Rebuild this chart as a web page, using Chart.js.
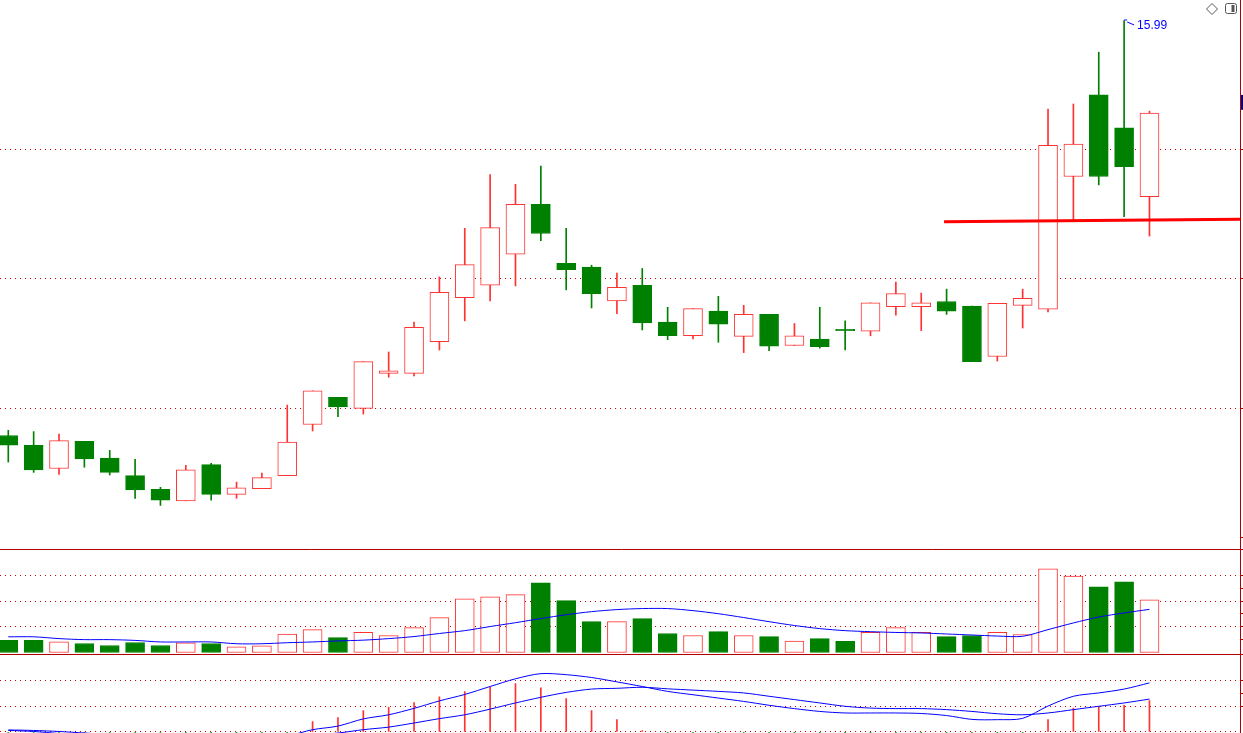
<!DOCTYPE html>
<html>
<head>
<meta charset="utf-8">
<script src="https://cdn.jsdelivr.net/npm/chart.js@4.4.1/dist/chart.umd.min.js"></script>
<style>
html, body { margin: 0; padding: 0; background: #fff; }
#wrap { position: relative; width: 1243px; height: 733px; overflow: hidden; }
</style>
</head>
<body>
<div id="wrap"><canvas id="kline" width="1243" height="733"></canvas></div>
<script>
// daily candles
const open  = [9.58, 9.43, 9.07, 9.49, 9.23, 8.96, 8.75, 8.57, 9.13, 8.67, 8.76, 8.96, 9.75, 10.17, 10.00, 10.54,
               10.54, 11.03, 11.71, 11.90, 12.38, 13.15, 12.24, 12.18, 11.66, 11.90, 11.33, 11.12, 11.50, 11.11, 11.45,
               10.97, 11.07, 11.22, 11.19, 11.57, 11.57, 11.65, 11.58, 10.80, 11.59, 11.53, 13.58, 14.84, 14.33, 13.27];
const close = [9.43, 9.05, 9.50, 9.22, 9.01, 8.74, 8.58, 9.05, 8.67, 8.77, 8.93, 9.48, 10.27, 10.02, 10.72, 10.58,
               11.25, 11.79, 12.22, 12.79, 13.15, 12.70, 12.14, 11.77, 11.87, 11.32, 11.12, 11.54, 11.30, 11.45, 10.96,
               11.12, 10.95, 11.20, 11.63, 11.77, 11.63, 11.50, 10.72, 11.62, 11.70, 14.06, 14.08, 13.58, 13.73, 14.56];
const high  = [9.66, 9.64, 9.60, 9.49, 9.35, 9.21, 8.78, 9.12, 9.15, 8.86, 9.00, 10.05, 10.27, 10.17, 10.72, 10.87,
               11.33, 12.03, 12.78, 13.61, 13.46, 13.74, 12.78, 12.21, 12.09, 12.16, 11.56, 11.54, 11.73, 11.59, 11.45,
               11.31, 11.56, 11.35, 11.63, 11.95, 11.78, 11.84, 11.58, 11.62, 11.84, 14.62, 14.70, 15.50, 15.99, 14.59];
const low   = [9.17, 9.01, 8.98, 9.09, 8.97, 8.61, 8.50, 8.57, 8.58, 8.61, 8.76, 8.96, 9.65, 9.87, 9.91, 10.48,
               10.50, 10.90, 11.35, 11.66, 11.89, 12.59, 11.83, 11.55, 11.46, 11.21, 11.06, 11.07, 11.02, 10.86, 10.89,
               10.97, 10.93, 10.90, 11.12, 11.44, 11.20, 11.45, 10.72, 10.73, 11.24, 11.49, 12.90, 13.45, 12.96, 12.66];

const volume = [0.47, 0.47, 0.41, 0.35, 0.27, 0.39, 0.27, 0.38, 0.35, 0.22, 0.26, 0.72, 0.89, 0.58, 0.78, 0.66,
                0.97, 1.36, 2.09, 2.17, 2.25, 2.71, 2.02, 1.20, 1.20, 1.32, 0.74, 0.66, 0.81, 0.66, 0.62,
                0.44, 0.54, 0.43, 0.78, 0.97, 0.78, 0.62, 0.66, 0.78, 0.70, 3.26, 2.98, 2.56, 2.75, 2.05];
const volMA  = [0.61, 0.61, 0.54, 0.50, 0.50, 0.47, 0.41, 0.41, 0.41, 0.34, 0.34, 0.38, 0.41, 0.45, 0.48, 0.54,
                0.62, 0.74, 0.85, 1.01, 1.16, 1.32, 1.47, 1.59, 1.67, 1.71, 1.71, 1.63, 1.51, 1.36, 1.20,
                1.05, 0.93, 0.85, 0.81, 0.78, 0.76, 0.72, 0.68, 0.64, 0.63, 0.89, 1.15, 1.38, 1.54, 1.68];

const dif  = [0.006, 0.002, -0.006, -0.014, -0.023, -0.031, -0.039, -0.043, -0.043, -0.039, -0.031, -0.016, 0.009, 0.023,
              0.051, 0.067, 0.092, 0.121, 0.146, 0.177, 0.207, 0.227, 0.223, 0.212, 0.195, 0.177, 0.158, 0.145, 0.132,
              0.119, 0.104, 0.091, 0.080, 0.074, 0.074, 0.074, 0.072, 0.064, 0.049, 0.048, 0.053, 0.101, 0.139, 0.152,
              0.167, 0.191];
const dea  = [0.008, 0.006, 0.002, -0.004, -0.010, -0.016, -0.021, -0.027, -0.031, -0.033, -0.031, -0.019, -0.012, -0.004,
              0.009, 0.019, 0.035, 0.052, 0.067, 0.089, 0.113, 0.135, 0.154, 0.167, 0.170, 0.174, 0.168, 0.163, 0.158,
              0.152, 0.139, 0.126, 0.113, 0.100, 0.093, 0.091, 0.091, 0.087, 0.080, 0.071, 0.067, 0.074, 0.087, 0.100,
              0.113, 0.128];
const macd = [-0.004, -0.008, -0.016, -0.020, -0.026, -0.030, -0.036, -0.032, -0.024, -0.012, -0.005, -0.004, 0.041, 0.056,
              0.083, 0.096, 0.114, 0.137, 0.157, 0.176, 0.188, 0.172, 0.130, 0.083, 0.048, 0.006, -0.020, -0.036, -0.052,
              -0.066, -0.070, -0.070, -0.066, -0.052, -0.038, -0.034, -0.038, -0.046, -0.062, -0.046, -0.028, 0.048, 0.093,
              0.100, 0.104, 0.122];

// drawn support line (index, price)
const supportLine = [{x: 36.9, y: 12.88}, {x: 48.6, y: 12.92}];
const lastTag = [14.61, 14.84];

const priceTicks = [8, 10, 12, 14];
const priceGrid  = [10, 12, 14];
const volTicks   = [0.5, 1, 1.5, 2, 2.5, 3];
const volGrid    = [1, 2, 3];
const macdTicks  = [0, 0.1, 0.15, 0.2];
const macdGrid   = [0, 0.1, 0.2];

const UP = '#ff3232';
const DOWN = '#008000';
const BLUE = '#0000ff';
const GRID = '#c80000';
const AXIS = '#b00000';

const days = open.map((_, i) => i);
const rising = days.map(i => close[i] >= open[i]);

function has(list, v)
{
    return list.some(t => Math.abs(t - v) < 1e-6);
}

function yAxis(weight, min, max, ticks, grid)
{
    return {
        position: 'right',
        stack: 'panels',
        stackWeight: weight,
        min: min,
        max: max,
        afterBuildTicks: scale => { scale.ticks = ticks.map(v => ({value: v})); },
        ticks: { display: false },
        grid: {
            drawTicks: true,
            tickLength: 3,
            lineWidth: 1,
            color: ctx => (ctx.tick && has(grid, ctx.tick.value)) ? GRID : 'rgba(0,0,0,0)',
            tickColor: ctx => (ctx.tick && ctx.tick.value !== 0) ? AXIS : 'rgba(0,0,0,0)'
        },
        border: { display: true, color: AXIS, width: 1, dash: [1, 4] }
    };
}

const deco = {
    id: 'deco',
    afterDraw(chart)
    {
        const {ctx, chartArea: area, scales} = chart;
        ctx.save();

        // panel separators
        ctx.strokeStyle = AXIS;
        ctx.lineWidth = 1;
        [scales.yv.top, scales.ym.top].forEach(y => {
            const yy = Math.round(y) + 0.5;
            ctx.beginPath();
            ctx.moveTo(0, yy);
            ctx.lineTo(chart.width, yy);
            ctx.stroke();
        });

        // highest price flag
        const top = Math.max(...high);
        const k = high.indexOf(top);
        const hx = scales.x.getPixelForValue(k);
        const hy = scales.yp.getPixelForValue(top);
        ctx.strokeStyle = BLUE;
        ctx.beginPath();
        ctx.moveTo(hx, hy - 0.5);
        ctx.lineTo(hx + 3, hy - 0.5);
        ctx.moveTo(hx + 3, hy + 1.5);
        ctx.lineTo(hx + 10, hy + 4.5);
        ctx.stroke();
        ctx.fillStyle = BLUE;
        ctx.font = '12px "Liberation Sans", Arial, sans-serif';
        ctx.textBaseline = 'middle';
        ctx.fillText(top.toFixed(2), hx + 13, hy + 5);

        // last price tag on the axis
        const t1 = scales.yp.getPixelForValue(lastTag[1]);
        const t0 = scales.yp.getPixelForValue(lastTag[0]);
        ctx.fillStyle = '#000080';
        ctx.fillRect(area.right + 1, t1, chart.width - area.right - 1, t0 - t1);

        // corner icons
        const cx = chart.width - 31;
        ctx.strokeStyle = '#555';
        ctx.lineWidth = 1;
        ctx.beginPath();
        ctx.moveTo(cx, 3.5);
        ctx.lineTo(cx + 5.5, 9);
        ctx.lineTo(cx, 14.5);
        ctx.lineTo(cx - 5.5, 9);
        ctx.closePath();
        ctx.stroke();
        const bx = chart.width - 17.5;
        ctx.beginPath();
        ctx.roundRect(bx, 3.5, 11, 10, 2);
        ctx.stroke();
        ctx.fillStyle = '#555';
        ctx.fillRect(bx + 6, 5, 3, 7);

        ctx.restore();
    }
};

const ctx = document.getElementById('kline').getContext('2d');

const klineChart = new Chart(ctx, {
    data: {
        datasets: [
            {
                type: 'line',
                yAxisID: 'yp',
                data: supportLine,
                borderColor: '#ff0000',
                borderWidth: 3,
                pointRadius: 0,
                order: 1
            },
            {
                type: 'bar',
                yAxisID: 'yp',
                data: days.map(i => ({x: i, y: [open[i], close[i]]})),
                backgroundColor: rising.map(r => r ? '#ffffff' : DOWN),
                borderColor: rising.map(r => r ? UP : DOWN),
                borderWidth: 1,
                borderSkipped: false,
                barThickness: 19,
                grouped: false,
                order: 3
            },
            {
                type: 'bar',
                yAxisID: 'yp',
                data: days.map(i => ({x: i, y: [low[i], high[i]]})),
                backgroundColor: rising.map(r => r ? UP : DOWN),
                borderWidth: 0,
                barThickness: 1,
                grouped: false,
                order: 4
            },
            {
                type: 'line',
                yAxisID: 'yv',
                data: days.map(i => ({x: i, y: volMA[i]})),
                borderColor: BLUE,
                borderWidth: 1,
                pointRadius: 0,
                tension: 0.3,
                order: 1
            },
            {
                type: 'bar',
                yAxisID: 'yv',
                data: days.map(i => ({x: i, y: volume[i]})),
                backgroundColor: rising.map(r => r ? '#ffffff' : DOWN),
                borderColor: rising.map(r => r ? UP : DOWN),
                borderWidth: 1,
                borderSkipped: false,
                barThickness: 19,
                grouped: false,
                order: 3
            },
            {
                type: 'line',
                yAxisID: 'ym',
                data: days.map(i => ({x: i, y: dif[i]})),
                borderColor: BLUE,
                borderWidth: 1,
                pointRadius: 0,
                tension: 0.3,
                order: 1
            },
            {
                type: 'line',
                yAxisID: 'ym',
                data: days.map(i => ({x: i, y: dea[i]})),
                borderColor: BLUE,
                borderWidth: 1,
                pointRadius: 0,
                tension: 0.3,
                order: 1
            },
            {
                type: 'bar',
                yAxisID: 'ym',
                data: days.map(i => ({x: i, y: macd[i]})),
                backgroundColor: macd.map(v => v >= 0 ? UP : DOWN),
                borderWidth: 0,
                barThickness: 1,
                grouped: false,
                order: 3
            }
        ]
    },
    options: {
        responsive: false,
        animation: false,
        events: [],
        layout: { padding: 0 },
        plugins: {
            legend: { display: false },
            tooltip: { enabled: false }
        },
        scales: {
            x: {
                type: 'linear',
                min: -0.327,
                max: 48.57,
                offset: false,
                grid: { offset: false },
                display: false
            },
            yp: yAxis(549, 7.827, 16.306, priceTicks, priceGrid),
            yv: yAxis(104.5, -0.04, 4.03, volTicks, volGrid),
            ym: yAxis(79.5, -0.0039, 0.3054, macdTicks, macdGrid)
        }
    },
    plugins: [deco]
});
</script>
</body>
</html>
